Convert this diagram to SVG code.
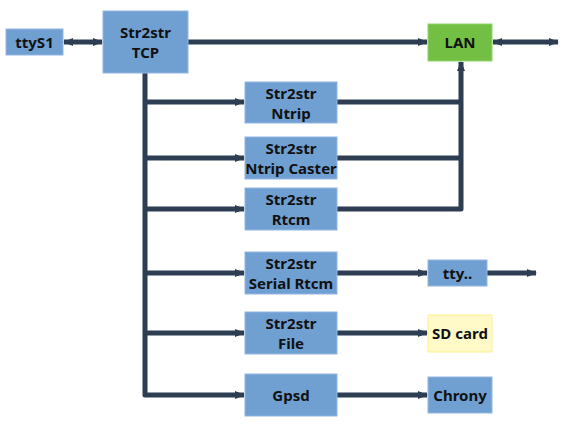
<svg xmlns="http://www.w3.org/2000/svg" width="574" height="425" viewBox="0 0 574 425">
<defs>
<style>
.box{fill:#709fd2;stroke:#93b6e2;stroke-width:1}
.lan{fill:#72bf44;stroke:#8fd66a;stroke-width:1}
.sd{fill:#fffac8;stroke:#fff08a;stroke-width:1}
.t{font-family:"Noto Sans","Open Sans",sans-serif;font-weight:bold;font-size:15px;fill:#111;text-anchor:middle}
.c{fill:none;stroke:#2d3e52;stroke-width:5;stroke-linejoin:round}
</style>
<marker id="ah" viewBox="0 0 10 8" refX="9" refY="4" markerWidth="10" markerHeight="8" markerUnits="userSpaceOnUse" orient="auto-start-reverse">
<path d="M0,0 L10,4 L0,8 Z" fill="#2d3e52"/>
</marker>
</defs>
<g id="connectors">
<path class="c" d="M64,42 H102" marker-start="url(#ah)" marker-end="url(#ah)"/>
<path class="c" d="M188,42 H427" marker-end="url(#ah)"/>
<path class="c" d="M493,42 H558" marker-start="url(#ah)" marker-end="url(#ah)"/>
<path class="c" d="M145,73 V395 H244" marker-end="url(#ah)"/>
<path class="c" d="M145,102 H244" marker-end="url(#ah)"/>
<path class="c" d="M145,158 H244" marker-end="url(#ah)"/>
<path class="c" d="M145,209 H244" marker-end="url(#ah)"/>
<path class="c" d="M145,273 H244" marker-end="url(#ah)"/>
<path class="c" d="M145,333 H244" marker-end="url(#ah)"/>
<path class="c" d="M337,102 H461"/>
<path class="c" d="M337,158 H461"/>
<path class="c" d="M337,209 H461 V62" marker-end="url(#ah)"/>
<path class="c" d="M337,273 H427" marker-end="url(#ah)"/>
<path class="c" d="M487,273 H536" marker-end="url(#ah)"/>
<path class="c" d="M337,333 H427" marker-end="url(#ah)"/>
<path class="c" d="M337,395 H427" marker-end="url(#ah)"/>
</g>
<g id="ttyS1"><rect class="box" x="6" y="29" width="57" height="26"/><text class="t" x="34.5" y="47.5">ttyS1</text></g>
<g id="tcp"><rect class="box" x="103" y="11" width="85" height="62"/><text class="t" x="145.5" y="37.5">Str2str</text><text class="t" x="145.5" y="57.5">TCP</text></g>
<g id="lan"><rect class="lan" x="428" y="24" width="64" height="37"/><text class="t" x="460" y="47.5">LAN</text></g>
<g id="ntrip"><rect class="box" x="245" y="82" width="92" height="41"/><text class="t" x="291" y="98.5">Str2str</text><text class="t" x="291" y="118.5">Ntrip</text></g>
<g id="caster"><rect class="box" x="245" y="137" width="92" height="42"/><text class="t" x="291" y="153.5">Str2str</text><text class="t" x="291" y="173.5">Ntrip Caster</text></g>
<g id="rtcm"><rect class="box" x="245" y="188" width="92" height="42"/><text class="t" x="291" y="204.5">Str2str</text><text class="t" x="291" y="224.5">Rtcm</text></g>
<g id="serial"><rect class="box" x="245" y="252" width="92" height="42"/><text class="t" x="291" y="268.5">Str2str</text><text class="t" x="291" y="288.5">Serial Rtcm</text></g>
<g id="file"><rect class="box" x="245" y="312" width="92" height="42"/><text class="t" x="291" y="328.5">Str2str</text><text class="t" x="291" y="348.5">File</text></g>
<g id="gpsd"><rect class="box" x="245" y="374" width="92" height="42"/><text class="t" x="291" y="400.5">Gpsd</text></g>
<g id="tty"><rect class="box" x="428" y="260" width="59" height="26"/><text class="t" x="457.5" y="278.5">tty..</text></g>
<g id="sdcard"><rect class="sd" x="428" y="315" width="64" height="37"/><text class="t" x="460" y="338.5">SD card</text></g>
<g id="chrony"><rect class="box" x="428" y="377" width="64" height="36"/><text class="t" x="460" y="400.5">Chrony</text></g>
</svg>
